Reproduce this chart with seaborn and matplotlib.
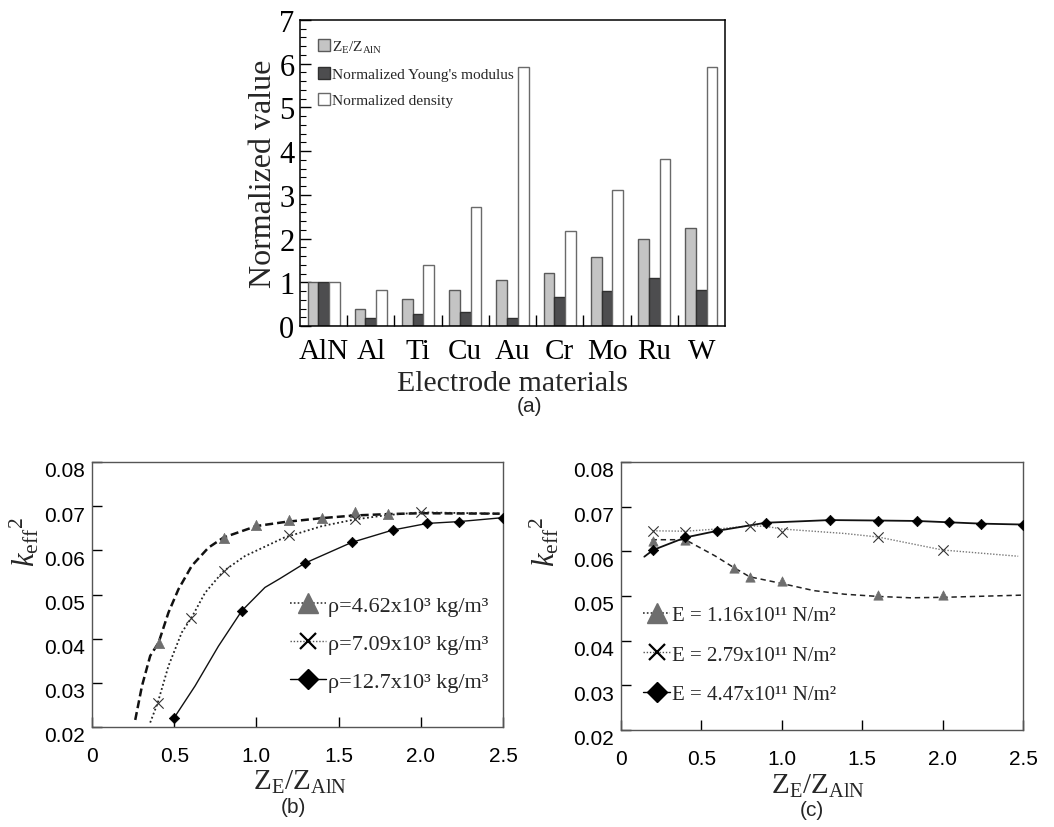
import matplotlib
matplotlib.use("Agg")
import matplotlib.pyplot as plt
from matplotlib.lines import Line2D
from matplotlib.ticker import MultipleLocator, FixedLocator
import matplotlib.transforms as mtransforms
import numpy as np
import pandas as pd
import seaborn as sns

# ---------------- data ----------------
materials = ["AlN", "Al", "Ti", "Cu", "Au", "Cr", "Mo", "Ru", "W"]
impedance_ratio = [1.00, 0.40, 0.61, 0.82, 1.05, 1.22, 1.58, 2.00, 2.24]
young_norm = [1.00, 0.18, 0.27, 0.32, 0.18, 0.66, 0.79, 1.09, 0.82]
density_norm = [1.00, 0.82, 1.40, 2.73, 5.93, 2.18, 3.11, 3.82, 5.92]
bar_series = [r"$\mathrm{Z_E/Z_{AlN}}$", "Normalized Young's modulus", "Normalized density"]

# (b) k_eff^2 vs Z_E/Z_AlN for three electrode densities
b_tri_curve_x = [0.263, 0.304, 0.354, 0.405, 0.465, 0.526, 0.607, 0.708, 0.80, 1.00, 1.17, 1.40, 1.60, 1.80, 2.00, 2.48]
b_tri_curve_y = [0.0216, 0.0293, 0.0361, 0.0391, 0.0459, 0.0512, 0.0565, 0.0606, 0.0629, 0.0655, 0.0664, 0.0673, 0.0679, 0.0682, 0.0684, 0.0683]
b_tri_x = [0.405, 0.80, 1.00, 1.20, 1.40, 1.60, 1.80]
b_tri_y = [0.0391, 0.0629, 0.0657, 0.0669, 0.0673, 0.0687, 0.0682]

b_x_curve_x = [0.354, 0.40, 0.465, 0.546, 0.603, 0.688, 0.80, 0.93, 1.17, 1.40, 1.60, 1.80, 2.00, 2.48]
b_x_curve_y = [0.0210, 0.0255, 0.0338, 0.0414, 0.0446, 0.0504, 0.0553, 0.0587, 0.0629, 0.0655, 0.0670, 0.0680, 0.0686, 0.0683]
b_x_x = [0.40, 0.60, 0.80, 1.20, 1.60, 2.00]
b_x_y = [0.0255, 0.0446, 0.0553, 0.0634, 0.0670, 0.0687]

b_dia_curve_x = [0.50, 0.627, 0.769, 0.911, 1.052, 1.143, 1.295, 1.58, 1.83, 2.04, 2.23, 2.50]
b_dia_curve_y = [0.0221, 0.0293, 0.0383, 0.0463, 0.0516, 0.0536, 0.0571, 0.0618, 0.0646, 0.0661, 0.0665, 0.0674]
b_dia_x = [0.50, 0.911, 1.295, 1.58, 1.83, 2.04, 2.23, 2.50]
b_dia_y = [0.0221, 0.0463, 0.0571, 0.0618, 0.0646, 0.0661, 0.0665, 0.0674]

b_labels = ["ρ=4.62x10³ kg/m³", "ρ=7.09x10³ kg/m³", "ρ=12.7x10³ kg/m³"]

# (c) k_eff^2 vs Z_E/Z_AlN for three electrode Young's moduli
c_tri_curve_x = [0.19, 0.40, 0.584, 0.70, 0.80, 1.00, 1.20, 1.39, 1.60, 1.80, 2.00, 2.50]
c_tri_curve_y = [0.0626, 0.0626, 0.0590, 0.0564, 0.0543, 0.0528, 0.0512, 0.0504, 0.0499, 0.0496, 0.0497, 0.0502]
c_tri_x = [0.20, 0.40, 0.70, 0.80, 1.00, 1.60, 2.00]
c_tri_y = [0.0624, 0.0625, 0.0562, 0.0542, 0.0533, 0.0503, 0.0503]

c_x_curve_x = [0.20, 0.40, 0.60, 0.80, 0.90, 1.00, 1.39, 1.60, 2.00, 2.47]
c_x_curve_y = [0.0646, 0.0645, 0.0650, 0.0657, 0.0656, 0.0650, 0.0640, 0.0632, 0.0603, 0.0589]
c_x_x = [0.20, 0.40, 0.80, 1.00, 1.60, 2.00]
c_x_y = [0.0646, 0.0643, 0.0657, 0.0643, 0.0631, 0.0602]

c_dia_curve_x = [0.145, 0.20, 0.40, 0.60, 0.90, 1.30, 1.60, 1.84, 2.04, 2.24, 2.50]
c_dia_curve_y = [0.0588, 0.0603, 0.0631, 0.0646, 0.0664, 0.0670, 0.0669, 0.0668, 0.0665, 0.0662, 0.0660]
c_dia_x = [0.20, 0.40, 0.60, 0.90, 1.30, 1.60, 1.84, 2.04, 2.24, 2.50]
c_dia_y = [0.0603, 0.0632, 0.0646, 0.0664, 0.0670, 0.0668, 0.0668, 0.0665, 0.0662, 0.0660]

c_labels = ["E = 1.16x10¹¹ N/m²", "E = 2.79x10¹¹ N/m²", "E = 4.47x10¹¹ N/m²"]

# ---------------- style ----------------
sns.set_theme(style="white")
plt.rcParams["font.family"] = ["Liberation Sans", "DejaVu Sans"]
plt.rcParams["mathtext.fontset"] = "custom"
plt.rcParams["mathtext.rm"] = "Liberation Serif"
plt.rcParams["mathtext.it"] = "Liberation Serif:italic"
plt.rcParams["mathtext.bf"] = "Liberation Serif:bold"
plt.rcParams["axes.edgecolor"] = "black"
plt.rcParams["xtick.color"] = "black"
plt.rcParams["ytick.color"] = "black"

SERIF = ["Liberation Serif", "DejaVu Serif"]
SANS = ["Liberation Sans", "DejaVu Sans"]

W, H = 1054, 828
fig = plt.figure(figsize=(W / 100, H / 100), dpi=100)


def box(left, top, right, bottom):
    return [left / W, 1 - bottom / H, (right - left) / W, (bottom - top) / H]


# ---------------- (a) grouped bars ----------------
ax_a = fig.add_axes(box(300, 21, 725, 327))
df_a = pd.DataFrame({
    "material": materials * 3,
    "value": impedance_ratio + young_norm + density_norm,
    "series": [bar_series[0]] * 9 + [bar_series[1]] * 9 + [bar_series[2]] * 9,
})
fills = ["#c4c4c4", "#4d4d4f", "#ffffff"]
edges = ["#5a5a5a", "#303030", "#6a6a6a"]
sns.barplot(data=df_a, x="material", y="value", hue="series", order=materials,
            hue_order=bar_series, palette=fills, saturation=1, width=0.68,
            legend=False, ax=ax_a)
for cont, ec in zip(ax_a.containers, edges):
    for patch in cont:
        patch.set_edgecolor(ec)
        patch.set_linewidth(1.0)

ax_a.set_xlim(-0.5, 8.5)
ax_a.set_ylim(0, 7)
ax_a.set_yticks(range(0, 8))
ax_a.yaxis.set_minor_locator(MultipleLocator(0.2))
ax_a.xaxis.set_minor_locator(FixedLocator(np.arange(0.5, 8.0, 1.0)))
ax_a.tick_params(axis="y", which="major", direction="in", length=8, width=1, pad=4,
                 left=True, right=False, labelsize=22)
ax_a.tick_params(axis="y", which="minor", direction="in", length=4, width=0.8,
                 left=True, right=False)
ax_a.tick_params(axis="x", which="major", length=0, pad=9, labelsize=21)
ax_a.tick_params(axis="x", which="minor", direction="in", length=8, width=1,
                 bottom=True, top=False)
for lab in ax_a.get_xticklabels() + ax_a.get_yticklabels():
    lab.set_family(SERIF)
for s in ax_a.spines.values():
    s.set_linewidth(1.1)
    s.set_color("black")
ax_a.set_xlabel("Electrode materials", fontsize=21.5, family=SERIF)
ax_a.set_ylabel("Normalized value", fontsize=23, family=SERIF)
ax_a.xaxis.label.set_va("center")
ax_a.yaxis.label.set_va("center")
ax_a.xaxis.set_label_coords(0.5, -0.185)
ax_a.yaxis.set_label_coords(-0.087, 0.5)

handles_a = [Line2D([], [], linestyle="none", marker="s", markersize=8,
                    markerfacecolor=f, markeredgecolor=e, markeredgewidth=1.0)
             for f, e in zip(fills, edges)]
ax_a.legend(handles_a, bar_series, loc="upper left", bbox_to_anchor=(0.02, 0.975),
            frameon=False, handlelength=0.6, handletextpad=0.2, labelspacing=0.82,
            borderaxespad=0.3, prop={"family": SERIF, "size": 11.1})

fig.text(530 / W, 1 - 407 / H, "(a)", ha="center", va="center", fontsize=15, family=SANS)


# ---------------- (b), (c) line panels ----------------
def style_panel(ax):
    ax.set_xlim(0, 2.5)
    ax.set_ylim(0.02, 0.08)
    ax.set_xticks([0, 0.5, 1.0, 1.5, 2.0, 2.5])
    ax.set_xticklabels(["0", "0.5", "1.0", "1.5", "2.0", "2.5"])
    ax.set_yticks([0.02, 0.03, 0.04, 0.05, 0.06, 0.07, 0.08])
    ax.set_yticklabels(["0.02", "0.03", "0.04", "0.05", "0.06", "0.07", "0.08"])
    ax.tick_params(axis="x", direction="in", length=7, width=1, pad=14,
                   labelsize=15, bottom=True, top=False)
    ax.tick_params(axis="y", direction="in", length=7, width=1, pad=5,
                   labelsize=15, left=True, right=False)
    shift = mtransforms.ScaledTranslation(0, -7 / 100, fig.dpi_scale_trans)
    for lab in ax.get_yticklabels():
        lab.set_transform(lab.get_transform() + shift)
    for s in ax.spines.values():
        s.set_linewidth(1.0)
        s.set_color("#555555")
    ax.set_xlabel(r"$\mathrm{Z_E/Z_{AlN}}$", fontsize=21)
    ax.set_ylabel(r"$k_{\mathrm{eff}}{}^{2}$", fontsize=22, rotation=90)
    ax.xaxis.label.set_va("center")
    ax.yaxis.label.set_va("center")


def draw_series(ax, cx, cy, mx, my, ls, lw, lc, marker, mcolor, msize, mlw):
    sns.lineplot(x=cx, y=cy, sort=False, estimator=None, color=lc,
                 linestyle=ls, linewidth=lw, ax=ax)
    if marker == "x":
        sns.scatterplot(x=mx, y=my, marker="x", color=mcolor, s=msize,
                        linewidth=mlw, ax=ax, zorder=4)
    else:
        sns.scatterplot(x=mx, y=my, marker=marker, color=mcolor, s=msize,
                        edgecolor=mcolor, linewidth=mlw, ax=ax, zorder=4)


def legend_handles():
    return [
        Line2D([], [], color="#333333", linestyle=(0, (1, 1.3)), linewidth=1.2,
               marker="^", markersize=14, markerfacecolor="#6e6e6e",
               markeredgecolor="#6e6e6e"),
        Line2D([], [], color="#555555", linestyle=(0, (1, 1.3)), linewidth=1.0,
               marker="x", markersize=11, markeredgecolor="black",
               markeredgewidth=1.6),
        Line2D([], [], color="black", linestyle="-", linewidth=1.0,
               marker="D", markersize=10, markerfacecolor="black",
               markeredgecolor="black"),
    ]


# (b)
ax_b = fig.add_axes(box(92, 463, 503, 728))
draw_series(ax_b, b_tri_curve_x, b_tri_curve_y, b_tri_x, b_tri_y,
            (0, (3.2, 1.6)), 1.8, "#111111", "^", "#6e6e6e", 55, 0.5)
draw_series(ax_b, b_x_curve_x, b_x_curve_y, b_x_x, b_x_y,
            (0, (1, 1.4)), 1.3, "#222222", "x", "#333333", 55, 0.8)
draw_series(ax_b, b_dia_curve_x, b_dia_curve_y, b_dia_x, b_dia_y,
            "-", 1.0, "#111111", "D", "black", 28, 0.5)
style_panel(ax_b)
ax_b.xaxis.set_label_coords(0.506, -0.205)
ax_b.yaxis.set_label_coords(-0.163, 0.70)
ax_b.legend(legend_handles(), b_labels, loc="upper left",
            bbox_to_anchor=(0.46, 0.53), frameon=False, handlelength=1.6,
            handletextpad=0.1, labelspacing=0.78, borderaxespad=0,
            prop={"family": SERIF, "size": 16})
fig.text(293 / W, 1 - 808 / H, "(b)", ha="center", va="center", fontsize=15, family=SANS)

# (c)
ax_c = fig.add_axes(box(621, 463, 1023, 731))
draw_series(ax_c, c_tri_curve_x, c_tri_curve_y, c_tri_x, c_tri_y,
            (0, (3.5, 2.5)), 1.1, "#222222", "^", "#6e6e6e", 45, 0.5)
draw_series(ax_c, c_x_curve_x, c_x_curve_y, c_x_x, c_x_y,
            (0, (1, 1.2)), 1.0, "#777777", "x", "#333333", 55, 0.8)
draw_series(ax_c, c_dia_curve_x, c_dia_curve_y, c_dia_x, c_dia_y,
            "-", 1.3, "#111111", "D", "black", 28, 0.5)
style_panel(ax_c)
ax_c.xaxis.set_label_coords(0.49, -0.205)
ax_c.yaxis.set_label_coords(-0.189, 0.705)
ax_c.legend(legend_handles(), c_labels, loc="upper left",
            bbox_to_anchor=(0.035, 0.495), frameon=False, handlelength=1.3,
            handletextpad=0.05, labelspacing=0.95, borderaxespad=0,
            prop={"family": SERIF, "size": 15})
fig.text(812 / W, 1 - 811 / H, "(c)", ha="center", va="center", fontsize=15, family=SANS)

fig.savefig("out.png", dpi=100)
